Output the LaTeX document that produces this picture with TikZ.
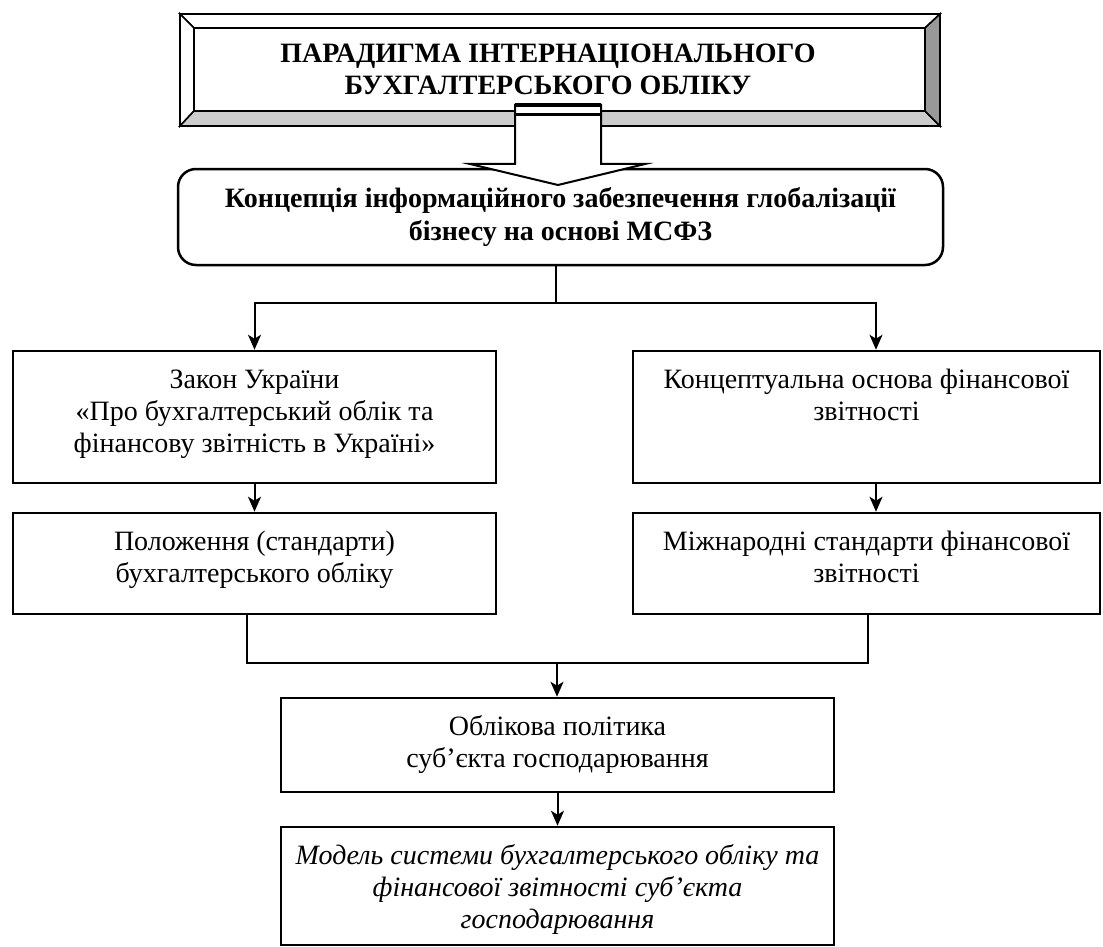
\documentclass[tikz,border=0pt]{standalone}
\usepackage{fontspec}
\setmainfont{Liberation Serif}
\usepackage{tikz}
\usetikzlibrary{arrows.meta}

\newcommand{\topcell}[3]{\parbox[c][#1][t]{#2}{\centering\vspace{7.4pt}#3}}

\begin{document}
\begin{tikzpicture}[x=0.5pt,y=-0.5pt,
  >={Stealth[length=7.5pt,width=6.5pt,inset=2pt]},
  font=\fontsize{14}{16}\selectfont,
  box/.style={draw,line width=1.25pt,inner sep=0pt},
  link/.style={line width=1pt}]
\useasboundingbox (0,0) rectangle (1103,947);

% bevelled title frame
\filldraw[fill=white,line width=0.8pt] (180,14) -- (940,14) -- (925,28) -- (194,28) -- cycle;
\filldraw[fill=white,line width=0.8pt] (180,14) -- (194,28) -- (194,111) -- (180,126) -- cycle;
\filldraw[fill=gray!40,line width=0.8pt] (180,126) -- (194,111) -- (925,111) -- (940,126) -- cycle;
\filldraw[fill=gray!80,line width=0.8pt] (940,14) -- (940,126) -- (925,111) -- (925,28) -- cycle;
\node[align=center,font=\fontsize{14}{16}\selectfont\bfseries] (title) at (548,69.5) {ПАРАДИГМА ІНТЕРНАЦІОНАЛЬНОГО\\БУХГАЛТЕРСЬКОГО ОБЛІКУ};

\node[draw,line width=1.25pt,rounded corners=9pt,minimum width=382.5pt,minimum height=48pt,
  align=center,font=\fontsize{14}{16.5}\selectfont\bfseries] (concept) at (560.5,217)
  {Концепція інформаційного забезпечення глобалізації\\бізнесу на основі МСФЗ};

% block arrow
\filldraw[fill=white,line width=1pt] (515,105) -- (601,105) -- (601,164) -- (645,164) -- (558,185)
  -- (470,164) -- (515,164) -- cycle;
\draw[line width=2pt] (515,105) -- (601,105);
\draw[line width=1.5pt] (515,115) -- (601,115);

\node[box] (law) at (254.5,417) {\topcell{66pt}{241.5pt}{\strut Закон України\\«Про бухгалтерський облік та\\фінансову звітність в Україні»}};
\node[box] (frame) at (866.5,417) {\topcell{66pt}{233.5pt}{\strut Концептуальна основа фінансової\\звітності}};
\node[box] (pbo) at (254.5,563.5) {\topcell{50.5pt}{241.5pt}{\strut Положення (стандарти)\\бухгалтерського обліку}};
\node[box] (ifrs) at (866.5,563.5) {\topcell{50.5pt}{233.5pt}{\strut Міжнародні стандарти фінансової\\звітності}};
\node[box] (policy) at (557.5,745) {\topcell{47pt}{276.5pt}{\strut Облікова політика\\суб’єкта господарювання}};
\node[box] (model) at (557.5,886) {\topcell{59pt}{276.5pt}{\itshape\strut Модель системи бухгалтерського обліку та\\фінансової звітності суб’єкта\\господарювання}};

% connectors
\coordinate (split) at (556,303);
\coordinate (merge) at (557,663);
\draw[line width=0.6pt] (split |- concept.south) -- (split);
\draw[link,->] (split) -| (law.north);
\draw[link,->] (split) -| ([xshift=4.75pt]frame.north);
\draw[link,->] (law.south) -- (pbo.north);
\draw[link,->] ([xshift=4.75pt]frame.south) -- ([xshift=4.75pt]ifrs.north);
\draw[link] ([xshift=-3.75pt]pbo.south) |- (merge) -| ([xshift=0.75pt]ifrs.south);
\draw[link,->] (merge) -- (merge |- policy.north);
\draw[link,->] (policy.south) -- (model.north);
\end{tikzpicture}
\end{document}
